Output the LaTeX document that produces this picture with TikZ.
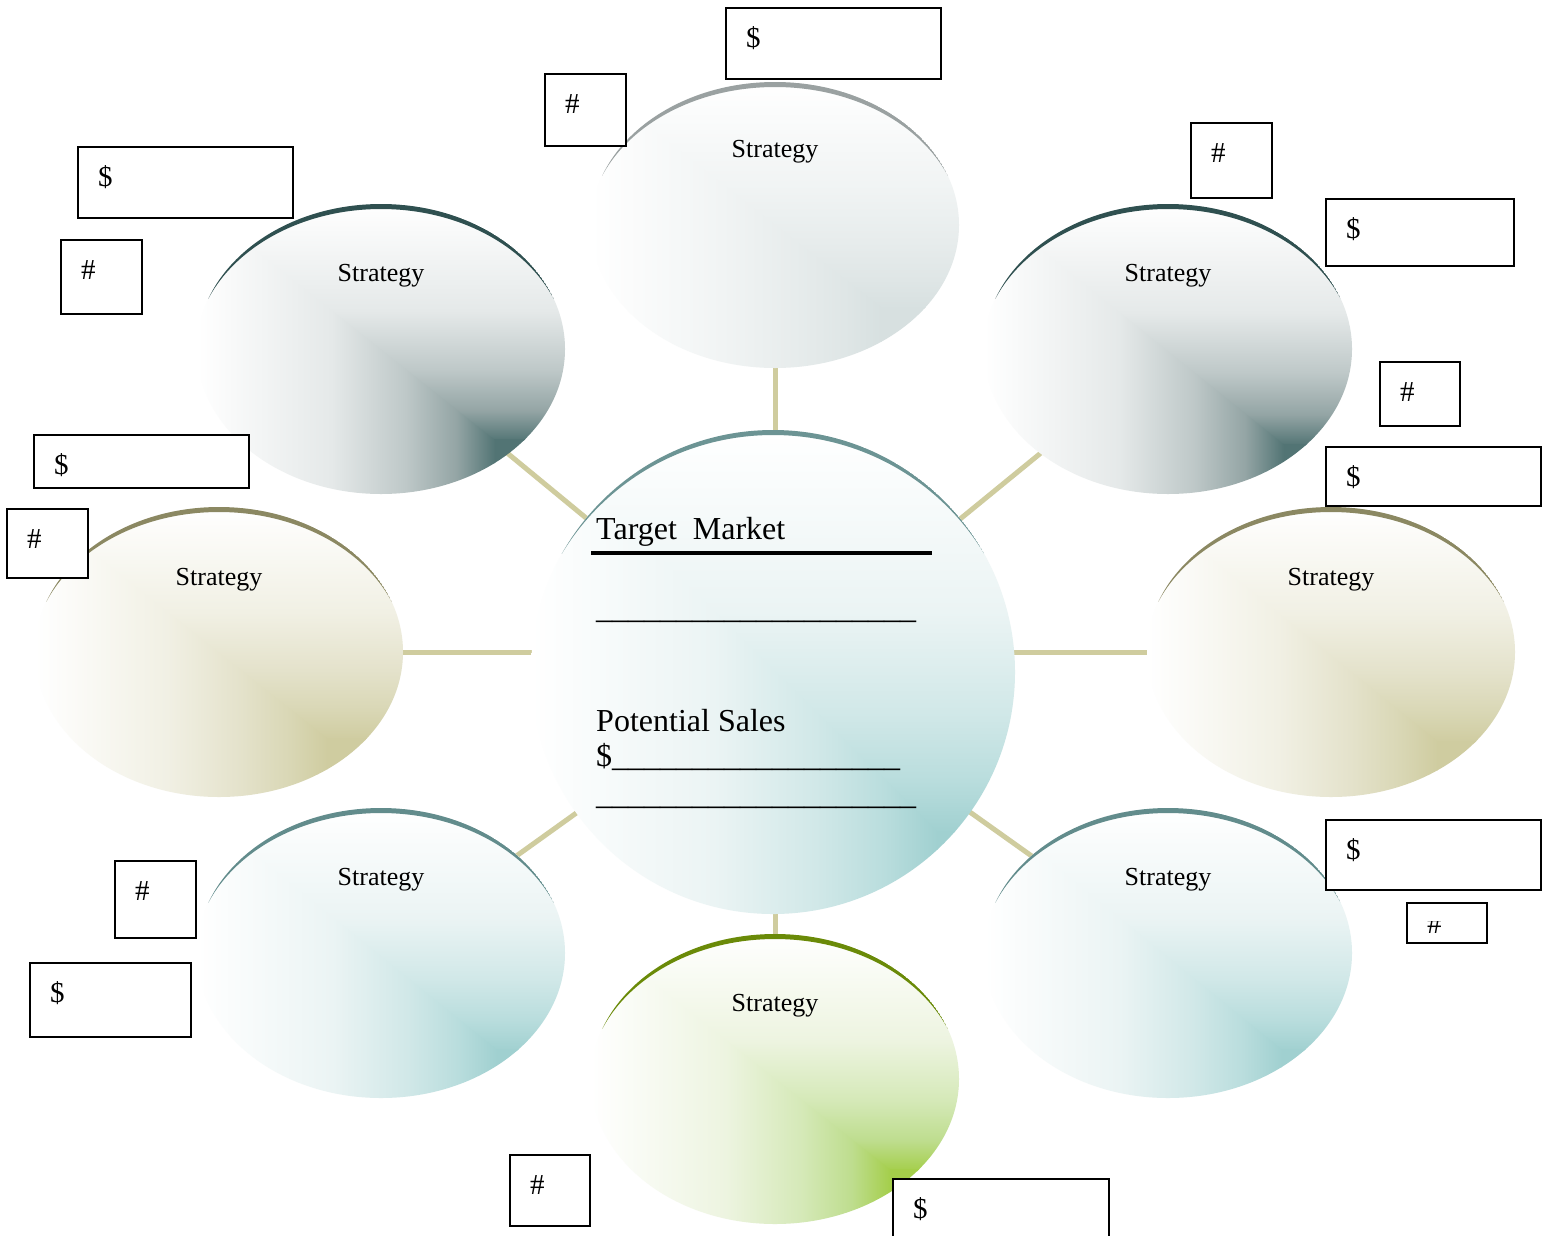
\documentclass[tikz,border=0pt]{standalone}
\usepackage{fontspec}
\setmainfont{Liberation Serif}
\usetikzlibrary{shapes.geometric}

\colorlet{bA}{white}\colorlet{bB}{white}\colorlet{bC}{white}\colorlet{bD}{white}\colorlet{bE}{white}
\pgfdeclarehorizontalshading[bA,bB,bC,bD,bE]{bubH}{100bp}{color(0bp)=(bA); color(25bp)=(bA); color(47.5bp)=(bB); color(60bp)=(bC); color(68.5bp)=(bD); color(75bp)=(bE); color(100bp)=(bE)}
\pgfdeclareverticalshading[bA,bB,bC,bD,bE]{bubV}{100bp}{color(0bp)=(bE); color(25bp)=(bE); color(31.5bp)=(bD); color(40bp)=(bC); color(52.5bp)=(bB); color(75bp)=(bA); color(100bp)=(bA)}

\newcommand\schSlate{\definecolor{bB}{HTML}{E5E9E9}\definecolor{bC}{HTML}{BEC8C8}\definecolor{bD}{HTML}{94A5A5}\definecolor{bE}{HTML}{527474}}
\newcommand\schGray{\definecolor{bB}{HTML}{F1F4F4}\definecolor{bC}{HTML}{E7ECEC}\definecolor{bD}{HTML}{DFE6E6}\definecolor{bE}{HTML}{D7E0E0}}
\newcommand\schTan{\definecolor{bB}{HTML}{F1F0E4}\definecolor{bC}{HTML}{E4E2CB}\definecolor{bD}{HTML}{D9D7B5}\definecolor{bE}{HTML}{CFCCA0}}
\newcommand\schTeal{\definecolor{bB}{HTML}{EBF4F4}\definecolor{bC}{HTML}{D1E8E8}\definecolor{bD}{HTML}{B9DDDD}\definecolor{bE}{HTML}{A0D0D0}}
\newcommand\schGreen{\definecolor{bB}{HTML}{EDF4E0}\definecolor{bC}{HTML}{D5E9B8}\definecolor{bD}{HTML}{BEDD8E}\definecolor{bE}{HTML}{A4CE4A}}

\definecolor{arcGray}{HTML}{9AA1A1}
\definecolor{arcSlate}{HTML}{2F5050}
\definecolor{arcTan}{HTML}{8B8862}
\definecolor{arcTeal}{HTML}{628C8C}
\definecolor{arcCtr}{HTML}{6C9494}
\definecolor{arcGreen}{HTML}{6A8A08}
\definecolor{connc}{HTML}{CFCC9E}

\tikzset{
  bubnode/.style={ellipse, inner sep=0pt, outer sep=0pt},
  conn/.style={draw=connc, line width=5pt},
  pbox/.style={draw=black, fill=white, line width=2pt, inner sep=0pt, outer sep=0pt, anchor=north west},
  boxtxt/.style={inner sep=0pt, font=\fontsize{29pt}{34pt}\selectfont},
  strat/.style={inner sep=0pt, anchor=base, font=\fontsize{26pt}{30pt}\selectfont},
  ctr/.style={inner sep=0pt, anchor=base west, font=\fontsize{32pt}{38pt}\selectfont},
}

% name, cx, cy, rx, ry
\newcommand\bubnodedef[5]{%
  \node[bubnode, minimum width=2*#4 pt, minimum height=2*#5 pt] (#1) at (#2,#3) {};}

% cx, cy, rx, ry, a, b, scheme, arc colour, sine of arc end
\newcommand\bubfill[9]{%
  #7%
  \begin{scope}
    \clip (#1,#2) ellipse [x radius=#3pt, y radius=#4pt];
    \pgfmathsetmacro\bxa{#1-#3}\pgfmathsetmacro\bxb{#1+#3}%
    \pgfmathsetmacro\bya{#2-#4}\pgfmathsetmacro\byb{#2+#4}%
    \pgfmathsetmacro\bxc{#1+#5*#3}\pgfmathsetmacro\byc{#2+#6*#4}%
    \pgfmathsetmacro\bq{5/#4}%
    \pgfmathsetmacro\bu{(2*#9*\bq + \bq*\bq)/(1-#9*#9)}%
    \pgfmathsetmacro\brx{#3/sqrt(1-\bu)}%
    \pgfmathsetmacro\byarc{#2-#9*#4+0.5}%
    \shade[shading=bubV] (\bxa-1,\bya) -- (\bxb,\bya) -- (\bxb,\byc+1) -- (\bxc-1,\byc+1) -- cycle;
    \fill[bE] (\bxc-1,\byc-1) rectangle (\bxb,\byb);
    \shade[shading=bubH] (\bxa,\bya) -- (\bxc,\byc) -- (\bxc,\byb) -- (\bxa,\byb) -- cycle;
    \begin{scope}
      \clip (\bxa-2,\bya-2) rectangle (\bxb+2,\byarc);
      \fill[#8, even odd rule] (#1,#2) ellipse [x radius=#3pt, y radius=#4pt] (#1,#2+5) ellipse [x radius=\brx pt, y radius=#4pt];
    \end{scope}
  \end{scope}}

% name, x1, y1, x2, y2, text
\newcommand\pbox[6]{%
  \pgfmathsetmacro\pbw{#4-#2}\pgfmathsetmacro\pbh{#5-#3}%
  \node[pbox, minimum width=\pbw pt, minimum height=\pbh pt] (#1) at (#2,#3) {};
  \node[boxtxt, anchor=base west] (#1t) at ([xshift=20pt,yshift=-39pt]#1.north west) {#6};}

\begin{document}
\begin{tikzpicture}[x=1pt, y=-1pt]
\useasboundingbox (0,0) rectangle (1554,1235);
\fill[white] (0,0) rectangle (1554,1235);
\begin{scope}
\clip (0,0) rectangle (1554,1235);

% named bubble nodes
\bubnodedef{T}{775}{225}{184}{143}
\bubnodedef{TL}{381}{349}{184}{145}
\bubnodedef{TR}{1168}{349}{184}{145}
\bubnodedef{L}{219}{652}{184}{145}
\bubnodedef{R}{1331}{652}{184}{145}
\bubnodedef{BL}{381}{953}{184}{145}
\bubnodedef{BR}{1168}{953}{184}{145}
\bubnodedef{B}{775}{1079}{184}{145}
\node[circle, inner sep=0pt, minimum size=484pt] (C) at (773,672) {};

% connectors (behind the bubbles)
\draw[conn] (T.center) -- (T.center |- C.center);
\draw[conn] (B.center) -- (B.center |- C.center);
\draw[conn] (L.center) -- (L.center -| C.center);
\draw[conn] (R.center) -- (R.center -| C.center);
\draw[conn] (TL.center) -- (C.center);
\draw[conn] (TR.center) -- (C.center);
\draw[conn] (BL.center) -- (C.center);
\draw[conn] (BR.center) -- (C.center);

% bubbles
\bubfill{775}{225}{184}{143}{0.58}{0.58}{\schGray}{arcGray}{0.35}
\bubfill{381}{349}{184}{145}{0.62}{0.63}{\schSlate}{arcSlate}{0.35}
\bubfill{1168}{349}{184}{145}{0.63}{0.66}{\schSlate}{arcSlate}{0.35}
\bubfill{219}{652}{184}{145}{0.59}{0.6}{\schTan}{arcTan}{0.35}
\bubfill{1331}{652}{184}{145}{0.58}{0.62}{\schTan}{arcTan}{0.35}
\bubfill{381}{953}{184}{145}{0.63}{0.67}{\schTeal}{arcTeal}{0.35}
\bubfill{1168}{953}{184}{145}{0.62}{0.67}{\schTeal}{arcTeal}{0.35}
\bubfill{775}{1079}{184}{145}{0.63}{0.63}{\schGreen}{arcGreen}{0.35}
\bubfill{773}{672}{242}{242}{0.68}{0.66}{\schTeal}{arcCtr}{0.49}

% labels
\node[strat] (Ts) at ([yshift=68pt]T.center) {Strategy};
\node[strat] (TLs) at ([yshift=68pt]TL.center) {Strategy};
\node[strat] (TRs) at ([yshift=68pt]TR.center) {Strategy};
\node[strat] (Ls) at ([yshift=67pt]L.center) {Strategy};
\node[strat] (Rs) at ([yshift=67pt]R.center) {Strategy};
\node[strat] (BLs) at ([yshift=68pt]BL.center) {Strategy};
\node[strat] (BRs) at ([yshift=68pt]BR.center) {Strategy};
\node[strat] (Bs) at ([yshift=68pt]B.center) {Strategy};

% centre text
\node[ctr] (tm) at (596,539) {Target\ \ Market};
\draw[line width=4pt] (591,553) -- (932,553);
\node[ctr] (ln1) at (596,618) {\_\_\_\_\_\_\_\_\_\_\_\_\_\_\_\_\_\_\_\_};
\node[ctr] (ps) at (596,731) {Potential Sales};
\node[ctr] (ln2) at (596,766) {\$\_\_\_\_\_\_\_\_\_\_\_\_\_\_\_\_\_\_};
\node[ctr] (ln3) at (596,804) {\_\_\_\_\_\_\_\_\_\_\_\_\_\_\_\_\_\_\_\_};

% boxes
\pbox{b1}{726}{8}{941}{79}{\$}
\pbox{b2}{545}{74}{626}{146}{\#}
\pbox{b3}{78}{147}{293}{218}{\$}
\pbox{b4}{61}{240}{142}{314}{\#}
\pbox{b5}{1191}{123}{1272}{198}{\#}
\pbox{b6}{1326}{199}{1514}{266}{\$}
\pbox{b7}{1380}{362}{1460}{426}{\#}
\pbox{b8}{1326}{447}{1541}{506}{\$}
\pbox{b9}{34}{435}{249}{488}{\$}
\pbox{b10}{7}{509}{88}{578}{\#}
\pbox{b11}{1326}{820}{1541}{890}{\$}
\pbox{b13}{115}{861}{196}{938}{\#}
\pbox{b14}{30}{963}{191}{1037}{\$}
\pbox{b15}{510}{1155}{590}{1226}{\#}
\pbox{b16}{893}{1179}{1109}{1262}{\$}
\pbox{b12}{1407}{903}{1487}{943}{}
\begin{scope}
\clip (1408,921) rectangle (1486,942);
\node[boxtxt, anchor=base west] (b12h) at ([xshift=20pt,yshift=-30pt]b12.north west) {\#};
\end{scope}
\end{scope}
\end{tikzpicture}
\end{document}
